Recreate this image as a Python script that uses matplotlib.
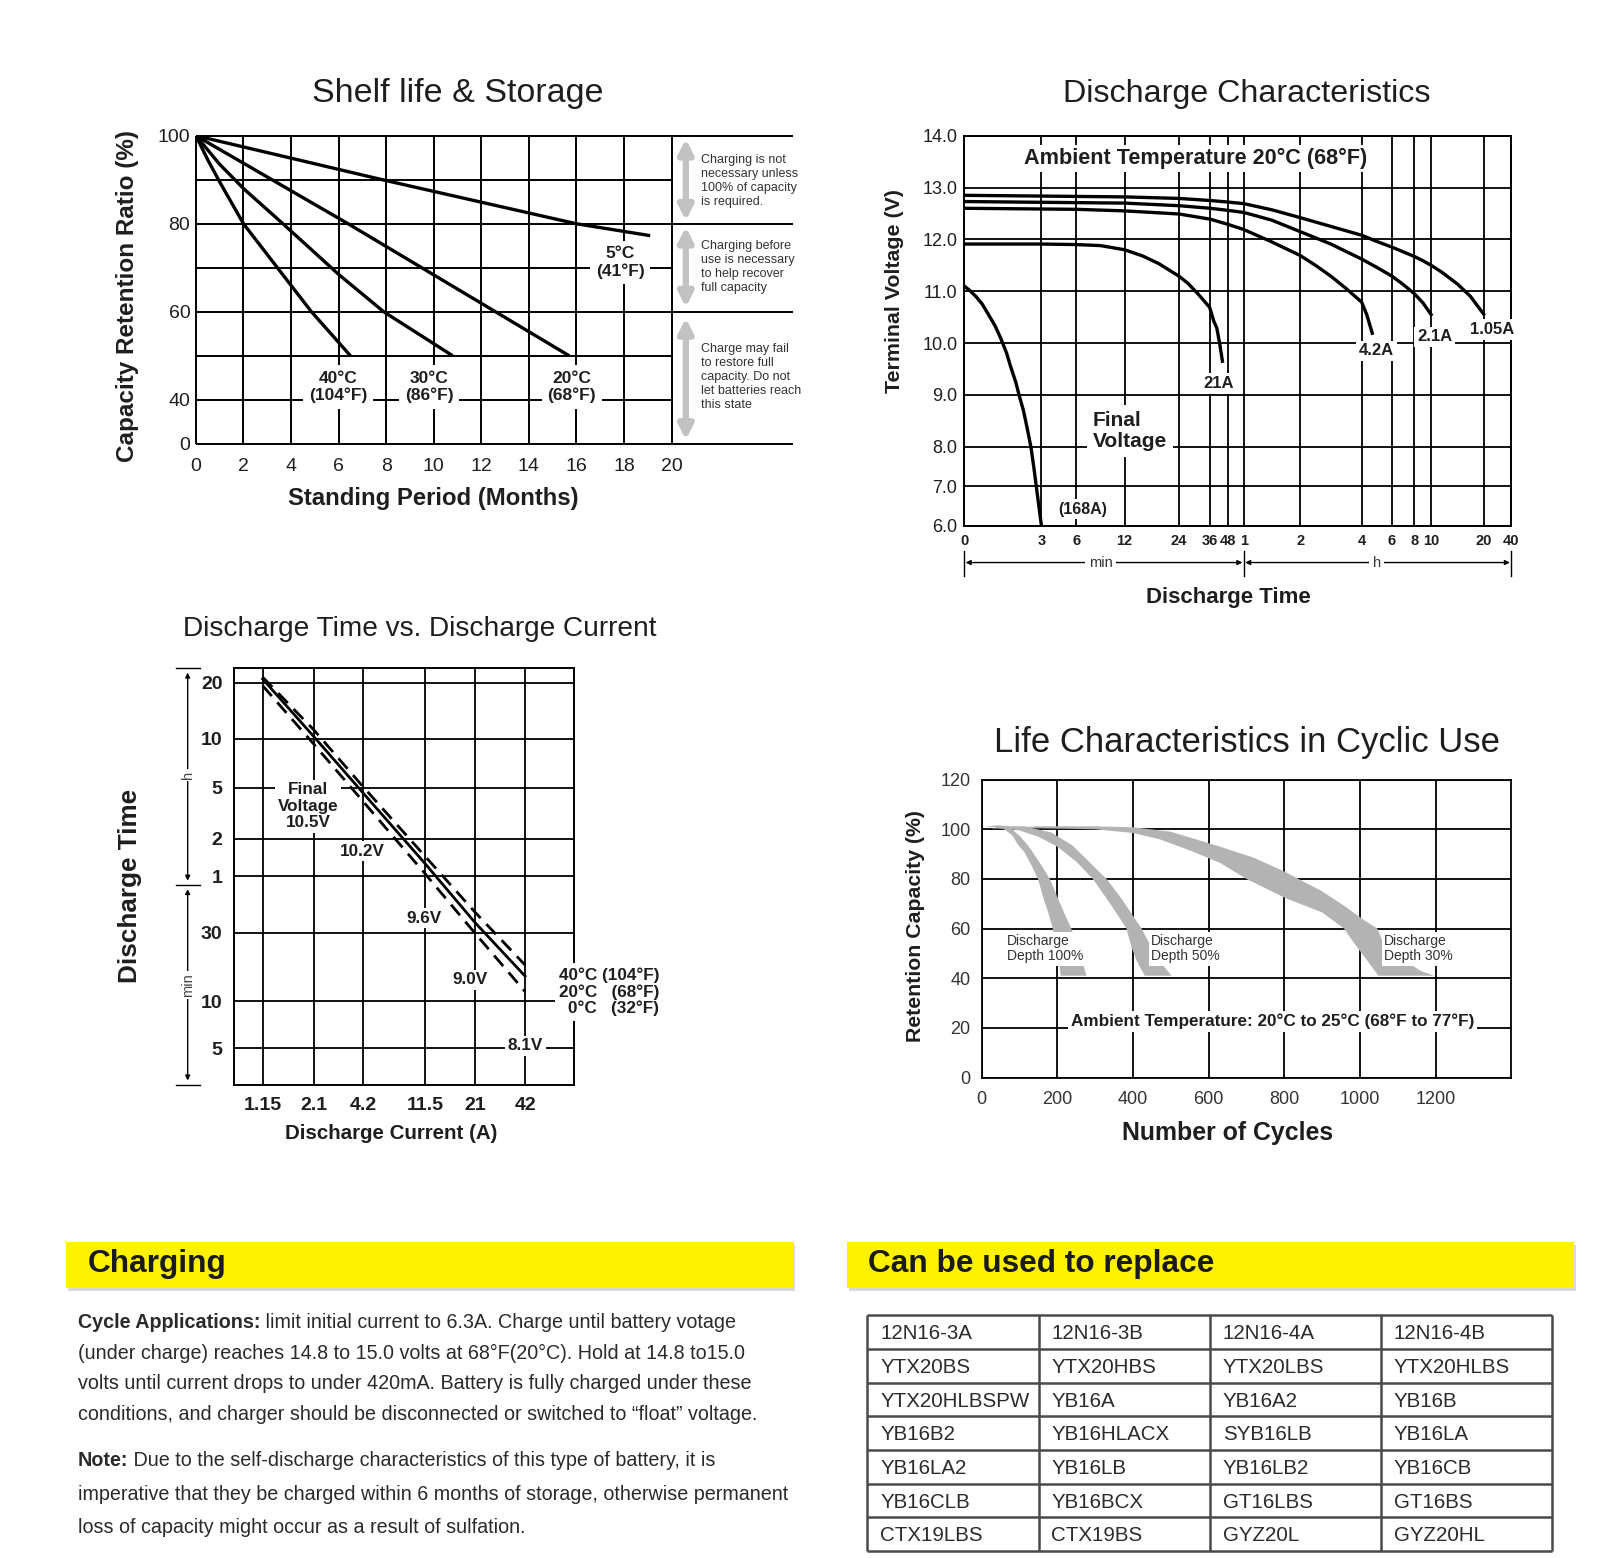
import numpy as np
import matplotlib
matplotlib.use("Agg")
import matplotlib.pyplot as plt
from matplotlib import font_manager
from matplotlib.patches import Rectangle

W, H = 1600, 1558
S = 1600 / 1568  # positions below were read on the 1568 px wide preview

names = {f.name for f in font_manager.fontManager.ttflist}
SANS = 'Liberation Sans' if 'Liberation Sans' in names else 'DejaVu Sans'
HAS_NARROW = 'Liberation Sans Narrow' in names
NARROW = 'Liberation Sans Narrow' if HAS_NARROW else SANS
plt.rcParams['font.family'] = [SANS, 'DejaVu Sans']

# ---------------- data ----------------
# Shelf life & Storage: months vs capacity retained (%)
shelf_5c_x = [0, 8, 16, 19.1]
shelf_5c_y = [100, 89.8, 80, 77.3]
shelf_20c_x = [0, 6.4, 12.6, 15.7]
shelf_20c_y = [100, 80, 60, 50]
shelf_30c_x = [0, 1, 2, 3.66, 6, 7.9, 10.8]
shelf_30c_y = [100, 93.5, 88, 80, 68.5, 60, 50]
shelf_40c_x = [0, 0.5, 1, 2, 3, 4, 4.86, 6.5]
shelf_40c_y = [100, 94.5, 89.5, 80, 73, 66, 60, 50]
shelf_xticks = list(range(0, 21, 2))
shelf_yticks = [30, 40, 60, 80, 100]          # 30 is the compressed "0" row
shelf_ylabels = ['0', '40', '60', '80', '100']
shelf_notes = ["Charging is not\nnecessary unless\n100% of capacity\nis required.",
               "Charging before\nuse is necessary\nto help recover\nfull capacity",
               "Charge may fail\nto restore full\ncapacity. Do not\nlet batteries reach\nthis state"]

# Discharge characteristics: minutes vs terminal voltage
dc_time_ticks = [0, 3, 6, 12, 24, 36, 48, 60, 120, 240, 360, 480, 600, 1200, 2400]
dc_time_labels = ['0', '3', '6', '12', '24', '36', '48', '1', '2', '4', '6', '8', '10', '20', '40']
dc_time_frac = [0, 0.141, 0.205, 0.293, 0.3925, 0.4495, 0.482, 0.511, 0.614,
                0.7265, 0.782, 0.823, 0.8535, 0.9495, 1.0]
dc_volt_ticks = [6, 7, 8, 9, 10, 11, 12, 13, 14]
dc_168a_t = [0, 0.2, 0.45, 0.7, 0.94, 1.2, 1.43, 1.65, 1.8, 2.0, 2.13, 2.3, 2.45, 2.59, 2.7, 2.8, 2.9, 3.0]
dc_168a_v = [11.1, 11.02, 10.9, 10.75, 10.55, 10.33, 10.08, 9.8, 9.55, 9.25, 9.0, 8.7, 8.35, 8.0,
             7.5, 7.0, 6.5, 6.0]
dc_21a_t = [0, 3, 6, 9, 12, 16, 19.6, 24, 27.5, 31.3, 35.8, 38.5, 40.5, 42.5, 44.3]
dc_21a_v = [11.91, 11.91, 11.9, 11.88, 11.8, 11.68, 11.53, 11.29, 11.15, 10.95, 10.69, 10.42,
            10.29, 9.98, 9.65]
dc_4a2_t = [0, 6, 12, 24, 36, 48, 60, 90, 120, 150, 180, 210, 240, 260, 282]
dc_4a2_v = [12.6, 12.58, 12.55, 12.49, 12.39, 12.29, 12.19, 11.95, 11.69, 11.5, 11.29, 11.05,
            10.79, 10.55, 10.19]
dc_2a1_t = [0, 12, 24, 36, 48, 60, 90, 120, 180, 240, 300, 360, 420, 480, 540, 600]
dc_2a1_v = [12.73, 12.7, 12.65, 12.6, 12.56, 12.52, 12.37, 12.15, 11.91, 11.62, 11.46, 11.29,
            11.13, 10.95, 10.78, 10.55]
dc_1a05_t = [0, 12, 24, 36, 48, 60, 90, 120, 180, 240, 300, 360, 420, 480, 540, 600, 720, 900, 1050, 1200]
dc_1a05_v = [12.85, 12.82, 12.79, 12.75, 12.72, 12.69, 12.57, 12.42, 12.25, 12.08, 11.96, 11.85,
             11.76, 11.67, 11.59, 11.5, 11.37, 11.14, 10.9, 10.56]

# Discharge time vs discharge current (A -> minutes)
dtc_current = [1.15, 2.1, 4.2, 11.5, 21, 42]
dtc_current_frac = [0.085, 0.2345, 0.379, 0.561, 0.708, 0.855]
dtc_40c_min = [1290, 672, 306, 87, 38.6, 17.9]
dtc_20c_min = [1260, 618, 275, 76, 34, 15.0]
dtc_0c_min = [1160, 558, 236, 63, 29.8, 11.7]
dtc_time_ticks = [5, 10, 30, 60, 120, 300, 600, 1200]
dtc_time_labels = ['5', '10', '30', '1', '2', '5', '10', '20']
dtc_time_frac = [0.087, 0.2, 0.365, 0.501, 0.591, 0.713, 0.831, 0.965]

# Life characteristics in cyclic use: band outlines (cycles, %)
life_100_upper = [(7, 101), (40, 101.6), (70, 101.3), (100, 97.4), (120, 94), (135, 90.8),
                  (160, 85), (180, 80), (205, 71), (222, 65), (237, 60), (250, 55),
                  (262, 50), (270, 45), (277, 41)]
life_100_lower = [(209, 41), (205, 46), (198, 52), (188, 60), (175, 67), (162, 73),
                  (149, 80), (130, 86), (113, 90.8), (95, 94), (82, 97.4), (60, 100),
                  (35, 100.8), (7, 101)]
life_50_upper = [(25, 100.3), (60, 101.2), (113, 101.2), (184, 98.7), (240, 93.5),
                 (290, 86), (330, 80), (370, 72), (405, 64), (423, 60), (440, 55),
                 (470, 47), (502, 41)]
life_50_lower = [(431, 41), (410, 47), (395, 53), (383, 60), (340, 70), (294, 80),
                 (250, 87), (200, 93), (150, 97), (100, 99.5), (60, 100.3), (25, 100.3)]
life_30_upper = [(60, 100.5), (150, 101.2), (300, 101.2), (400, 100.8), (500, 99),
                 (630, 93), (720, 88.5), (800, 83), (900, 75), (960, 69), (1010, 63.5),
                 (1046, 60), (1060, 55), (1110, 48), (1160, 43), (1196, 41)]
life_30_lower = [(1049, 41), (1020, 47), (990, 53), (958, 60), (900, 66.5), (800, 72.5),
                 (700, 80), (630, 86.5), (550, 91.5), (470, 96), (400, 98.5), (300, 100),
                 (150, 100.4), (60, 100.5)]
life_xticks = list(range(0, 1201, 200))
life_yticks = list(range(0, 121, 20))

replace_models = [
    ["12N16-3A", "12N16-3B", "12N16-4A", "12N16-4B"],
    ["YTX20BS", "YTX20HBS", "YTX20LBS", "YTX20HLBS"],
    ["YTX20HLBSPW", "YB16A", "YB16A2", "YB16B"],
    ["YB16B2", "YB16HLACX", "SYB16LB", "YB16LA"],
    ["YB16LA2", "YB16LB", "YB16LB2", "YB16CB"],
    ["YB16CLB", "YB16BCX", "GT16LBS", "GT16BS"],
    ["CTX19LBS", "CTX19BS", "GYZ20L", "GYZ20HL"],
]

charging_lines = [
    [("Cycle Applications:", "bold"), (" limit initial current to 6.3A. Charge until battery votage", "normal")],
    [("(under charge) reaches 14.8 to 15.0 volts at 68°F(20°C). Hold at 14.8 to15.0", "normal")],
    [("volts until current drops to under 420mA. Battery is fully charged under these", "normal")],
    [("conditions, and charger should be disconnected or switched to \u201cfloat\u201d voltage.", "normal")],
]
note_lines = [
    [("Note:", "bold"), (" Due to the self-discharge characteristics of this type of battery, it is", "normal")],
    [("imperative that they be charged within 6 months of storage, otherwise permanent", "normal")],
    [("loss of capacity might occur as a result of sulfation.", "normal")],
]


# ---------------- helpers ----------------
def R(x0, y0, x1, y1):
    return [x0 * S / W, 1 - y1 * S / H, (x1 - x0) * S / W, (y1 - y0) * S / H]


def P(x, y):
    return x * S / W, 1 - y * S / H


def piecewise(knots, fracs, log=False):
    k = np.asarray(knots, float)
    k = np.log(k) if log else k
    f = np.asarray(fracs, float)

    def fwd(v):
        v = np.asarray(v, float)
        t = np.log(np.maximum(v, 1e-12)) if log else v
        out = np.interp(t, k, f)
        out = np.where(t < k[0], f[0] + (t - k[0]) * (f[1] - f[0]) / (k[1] - k[0]), out)
        out = np.where(t > k[-1], f[-1] + (t - k[-1]) * (f[-1] - f[-2]) / (k[-1] - k[-2]), out)
        return out

    def inv(u):
        u = np.asarray(u, float)
        t = np.interp(u, f, k)
        t = np.where(u < f[0], k[0] + (u - f[0]) * (k[1] - k[0]) / (f[1] - f[0]), t)
        t = np.where(u > f[-1], k[-1] + (u - f[-1]) * (k[-1] - k[-2]) / (f[-1] - f[-2]), t)
        return np.exp(t) if log else t
    return fwd, inv


WBOX = dict(facecolor='white', edgecolor='none', pad=2)
INK = '#1e1e1e'

fig = plt.figure(figsize=(16, 15.58), dpi=100)
fig.patch.set_facecolor('white')

# titles and axis labels
fig.text(*P(449, 92), "Shelf life & Storage", fontsize=24.5, ha='center', va='center', color=INK)
fig.text(*P(1222, 92), "Discharge Characteristics", fontsize=23.2, ha='center', va='center', color=INK)
fig.text(*P(411, 616), "Discharge Time vs. Discharge Current", fontsize=21.5 if HAS_NARROW else 20.2,
         family=NARROW, ha='center', va='center', color=INK)
fig.text(*P(1222, 728), "Life Characteristics in Cyclic Use", fontsize=25, ha='center', va='center', color=INK)

fig.text(*P(125, 290), "Capacity Retention Ratio (%)", fontsize=17.5, weight='bold', rotation=90,
         ha='center', va='center', color=INK)
fig.text(*P(425, 489), "Standing Period (Months)", fontsize=17.2, weight='bold', ha='center', va='center', color=INK)
fig.text(*P(877, 285), "Terminal Voltage (V)", fontsize=15.4, weight='bold', rotation=90,
         ha='center', va='center', color=INK)
fig.text(*P(1204, 586), "Discharge Time", fontsize=16, weight='bold', ha='center', va='center', color=INK)
fig.text(*P(127, 868), "Discharge Time", fontsize=18.8, weight='bold', rotation=90,
         ha='center', va='center', color=INK)
fig.text(*P(383, 1111), "Discharge Current (A)", fontsize=14.8, weight='bold', ha='center', va='center', color=INK)
fig.text(*P(897, 908), "Retention Capacity (%)", fontsize=15.3, weight='bold', rotation=90,
         ha='center', va='center', color=INK)
fig.text(*P(1203, 1110), "Number of Cycles", fontsize=17.9, weight='bold', ha='center', va='center', color=INK)

# ---------------- Shelf life & Storage ----------------
ax1 = fig.add_axes(R(192, 133, 777, 435))
ax1.set_xlim(0, 25.1)
ax1.set_ylim(30, 100)
for sp in ax1.spines.values():
    sp.set_visible(False)
ax1.vlines(shelf_xticks, 30, 100, color='k', lw=1.4, zorder=1, clip_on=False)
ax1.hlines([100, 80, 60, 30], 0, 25.1, color='k', lw=1.4, zorder=1, clip_on=False)
ax1.hlines([90, 70, 50, 40], 0, 20, color='k', lw=1.4, zorder=1)
for xs, ys in [(shelf_5c_x, shelf_5c_y), (shelf_20c_x, shelf_20c_y),
               (shelf_30c_x, shelf_30c_y), (shelf_40c_x, shelf_40c_y)]:
    ax1.plot(xs, ys, color='k', lw=2.4, zorder=3, solid_capstyle='butt')
ax1.set_xticks(shelf_xticks)
ax1.set_xticklabels([str(v) for v in shelf_xticks])
ax1.set_yticks(shelf_yticks)
ax1.set_yticklabels(shelf_ylabels)
ax1.tick_params(length=0, labelsize=14, colors=INK)
ax1.tick_params(axis='x', pad=10)
ax1.tick_params(axis='y', pad=4)
for txt, x, y in [("5°C\n(41°F)", 17.84, 71.2), ("40°C\n(104°F)", 5.98, 42.9),
                  ("30°C\n(86°F)", 9.8, 42.9), ("20°C\n(68°F)", 15.8, 42.9)]:
    ax1.text(x, y, txt, ha='center', va='center', fontsize=12.5, weight='bold', color=INK,
             bbox=dict(facecolor='white', edgecolor='none', pad=4), zorder=4, linespacing=1.15)
for (y0, y1), (note, ny) in zip([(99.3, 80.7), (79.3, 61.0), (58.6, 30.9)],
                                zip(shelf_notes, [89.7, 70.2, 45.2])):
    ax1.annotate('', xy=(20.6, y1), xytext=(20.6, y0),
                 arrowprops=dict(arrowstyle='<|-|>,head_length=0.6,head_width=0.3',
                                 color='#c2c2c2', lw=4.5, mutation_scale=14,
                                 shrinkA=0, shrinkB=0), zorder=2)
    ax1.text(21.25, ny, note, fontsize=10 if HAS_NARROW else 9, family=NARROW, color='#333333',
             ha='left', va='center', linespacing=1.2, zorder=4,
             bbox=dict(facecolor='white', edgecolor='none', pad=1))

# ---------------- Discharge Characteristics ----------------
ax2 = fig.add_axes(R(945, 133, 1481, 515))
fx2, ix2 = piecewise(dc_time_ticks, dc_time_frac)
fy2, iy2 = piecewise([6, 7, 8, 14], [0, 0.76, 1.52, 7.52])
ax2.set_xscale('function', functions=(fx2, ix2))
ax2.set_yscale('function', functions=(fy2, iy2))
ax2.set_xlim(0, 2400)
ax2.set_ylim(6, 14)
ax2.set_xticks(dc_time_ticks)
ax2.set_xticklabels(dc_time_labels, weight='bold', fontsize=10.5)
ax2.set_yticks(dc_volt_ticks)
ax2.set_yticklabels([f"{v:.1f}" for v in dc_volt_ticks], fontsize=13)
ax2.minorticks_off()
ax2.tick_params(length=0, colors=INK)
ax2.tick_params(axis='x', pad=6)
ax2.tick_params(axis='y', pad=5)
ax2.grid(True, color='k', lw=1.3)
ax2.set_axisbelow(True)
for sp in ax2.spines.values():
    sp.set_linewidth(1.4)
for ts, vs in [(dc_168a_t, dc_168a_v), (dc_21a_t, dc_21a_v), (dc_4a2_t, dc_4a2_v),
               (dc_2a1_t, dc_2a1_v), (dc_1a05_t, dc_1a05_v)]:
    ax2.plot(ts, vs, color='k', lw=2.4, zorder=3)
for txt, x, y, kw in [("Ambient Temperature 20°C (68°F)", 0.4235, 0.942, dict(fontsize=15.6)),
                      ("(168A)", 0.216, 0.042, dict(fontsize=11.5)),
                      ("21A", 0.4646, 0.364, dict(fontsize=12)),
                      ("4.2A", 0.754, 0.448, dict(fontsize=12)),
                      ("2.1A", 0.860, 0.484, dict(fontsize=12)),
                      ("1.05A", 0.9646, 0.503, dict(fontsize=12))]:
    ax2.text(x, y, txt, transform=ax2.transAxes, ha='center', va='center', weight='bold',
             color=INK, bbox=WBOX, zorder=4, **kw)
ax2.text(0.235, 0.243, "Final\nVoltage", transform=ax2.transAxes, ha='left', va='center',
         fontsize=15, weight='bold', color=INK, bbox=dict(facecolor='white', edgecolor='none', pad=4),
         zorder=4, linespacing=1.15)
# min / h span markers below the axis
bx = ax2.get_xaxis_transform()
for xa, xb, lab, xl in [(0, 60, "min", 9), (60, 2400, "h", 300)]:
    ax2.annotate('', xy=(xa, -0.095), xytext=(xb, -0.095), xycoords=bx, textcoords=bx,
                 arrowprops=dict(arrowstyle='<|-|>', lw=1, color='k', mutation_scale=7,
                                 shrinkA=1, shrinkB=1), annotation_clip=False)
    ax2.text(xl, -0.095, lab, transform=bx, ha='center', va='center', fontsize=10.5,
             color='#333333', bbox=dict(facecolor='white', edgecolor='none', pad=2.5), clip_on=False)
for xv in [0, 60, 2400]:
    ax2.plot([xv, xv], [-0.065, -0.13], transform=bx, color='k', lw=1, clip_on=False)

# ---------------- Discharge Time vs Discharge Current ----------------
ax3 = fig.add_axes(R(229, 655, 563, 1063))
fx3, ix3 = piecewise(dtc_current, dtc_current_frac, log=True)
fy3, iy3 = piecewise(dtc_time_ticks, dtc_time_frac, log=True)
ax3.set_xscale('function', functions=(fx3, ix3))
ax3.set_yscale('function', functions=(fy3, iy3))
ax3.set_xlim(float(ix3(0.0)), float(ix3(1.0)))
ax3.set_ylim(float(iy3(0.0)), float(iy3(1.0)))
ax3.set_xticks(dtc_current)
ax3.set_xticklabels([str(v) for v in dtc_current], weight='bold', fontsize=14)
ax3.set_yticks(dtc_time_ticks)
ax3.set_yticklabels(dtc_time_labels, weight='bold', fontsize=14)
ax3.minorticks_off()
ax3.tick_params(length=0, colors=INK)
ax3.tick_params(axis='x', pad=9)
ax3.tick_params(axis='y', pad=8)
ax3.grid(True, color='k', lw=1.3)
ax3.set_axisbelow(True)
for sp in ax3.spines.values():
    sp.set_linewidth(1.4)
ax3.plot(dtc_current, dtc_20c_min, color='k', lw=2, zorder=3)
ax3.plot(dtc_current, dtc_40c_min, color='k', lw=2, ls=(0, (5, 3)), zorder=3)
ax3.plot(dtc_current, dtc_0c_min, color='k', lw=2, ls=(0, (5, 3)), zorder=3)
for txt, x, y in [("Final\nVoltage\n10.5V", 0.2186, 0.669), ("10.2V", 0.377, 0.561),
                  ("9.6V", 0.557, 0.40), ("9.0V", 0.692, 0.252), ("8.1V", 0.856, 0.093)]:
    ax3.text(x, y, txt, transform=ax3.transAxes, ha='center', va='center', fontsize=12.3,
             weight='bold', color=INK, bbox=WBOX, zorder=4, linespacing=1.1)
ax3.text(1.249, 0.223, "40°C (104°F)\n20°C   (68°F)\n0°C   (32°F)", transform=ax3.transAxes,
         ha='right', va='center', multialignment='right', fontsize=12.3, weight='bold',
         color=INK, linespacing=1.1, clip_on=False, zorder=5,
         bbox=dict(facecolor='white', edgecolor='none', pad=3))
# h / min bracket at the left
xb = -0.135
for yv in [1.0, 0.48, 0.0]:
    ax3.plot([xb - 0.035, xb + 0.035], [yv, yv], transform=ax3.transAxes, color='k', lw=1, clip_on=False)
for ya, yb, lab, yl in [(0.99, 0.49, "h", 0.743), (0.47, 0.01, "min", 0.24)]:
    ax3.annotate('', xy=(xb, ya), xytext=(xb, yb), xycoords='axes fraction',
                 arrowprops=dict(arrowstyle='<|-|>', lw=1, color='k', mutation_scale=7,
                                 shrinkA=0, shrinkB=0), annotation_clip=False)
    ax3.text(xb, yl, lab, transform=ax3.transAxes, rotation=90, ha='center', va='center',
             fontsize=10.5, color='#444444', bbox=dict(facecolor='white', edgecolor='none', pad=1.5),
             clip_on=False)

# ---------------- Life Characteristics in Cyclic Use ----------------
ax4 = fig.add_axes(R(962, 764, 1481, 1056))
ax4.set_xlim(0, 1400)
ax4.set_ylim(0, 120)
ax4.set_xticks(life_xticks)
ax4.set_yticks(life_yticks)
ax4.tick_params(length=0, labelsize=13, colors='#333333')
ax4.tick_params(axis='x', pad=10)
ax4.tick_params(axis='y', pad=8)
ax4.grid(True, color='k', lw=1.3)
ax4.set_axisbelow(True)
for sp in ax4.spines.values():
    sp.set_linewidth(1.3)
for up, lo in [(life_100_upper, life_100_lower), (life_50_upper, life_50_lower),
               (life_30_upper, life_30_lower)]:
    pts = np.array(up + lo)
    ax4.fill(pts[:, 0], pts[:, 1], color='#b3b3b3', lw=0, zorder=3)
for txt, x in [("Discharge\nDepth 100%", 67), ("Discharge\nDepth 50%", 448), ("Discharge\nDepth 30%", 1063)]:
    ax4.text(x, 51.8, txt, ha='left', va='center', fontsize=11.5 if HAS_NARROW else 10,
             family=NARROW, color='#333333', linespacing=1.1, zorder=4,
             bbox=dict(facecolor='white', edgecolor='none', pad=1.5))
ax4.text(769, 22.5, "Ambient Temperature: 20°C to 25°C (68°F to 77°F)", ha='center', va='center',
         fontsize=12.3, weight='bold', color=INK, zorder=4, bbox=WBOX)

# ---------------- bottom panels ----------------
for x0, x1, title in [(65, 778, "Charging"), (830, 1543, "Can be used to replace")]:
    fx0, fy0 = P(x0, 1262)
    fx1, fy1 = P(x1, 1217)
    fig.add_artist(Rectangle((fx0 + 0.001, fy0 - 0.002), fx1 - fx0, fy1 - fy0,
                             transform=fig.transFigure, facecolor='#d8d8d8', edgecolor='none'))
    fig.add_artist(Rectangle((fx0, fy0), fx1 - fx0, fy1 - fy0, transform=fig.transFigure,
                             facecolor='#fff200', edgecolor='none'))
    fig.text(*P(x0 + 21, 1239), title, fontsize=22.8, weight='bold', color='#1a1a1a',
             ha='left', va='center')

renderer = fig.canvas.get_renderer()
body_size = 14.5 if HAS_NARROW else 14.2


def rich_line(x, y, parts):
    fxp, fyp = P(x, y)
    for s, w in parts:
        t = fig.text(fxp, fyp, s, fontsize=body_size, family=NARROW, weight=w,
                     color='#2a2a2a', ha='left', va='center')
        fxp += t.get_window_extent(renderer=renderer).width / W


for parts, y in zip(charging_lines, [1296, 1326, 1356, 1386]):
    rich_line(76, y, parts)
for parts, y in zip(note_lines, [1431, 1465, 1497]):
    rich_line(76, y, parts)

axt = fig.add_axes(R(850, 1289, 1521, 1520))
axt.set_xlim(0, 4)
axt.set_ylim(7, 0)
axt.axis('off')
axt.hlines(range(len(replace_models) + 1), 0, 4, color='#4a4a4a', lw=1.8, clip_on=False)
axt.vlines(range(5), 0, len(replace_models), color='#4a4a4a', lw=1.8, clip_on=False)
for r, row in enumerate(replace_models):
    for c, name in enumerate(row):
        axt.text(c + 0.075, r + 0.55, name, ha='left', va='center', fontsize=14.8, color='#2b2b2b')

fig.savefig("out.png", dpi=100, facecolor='white')
